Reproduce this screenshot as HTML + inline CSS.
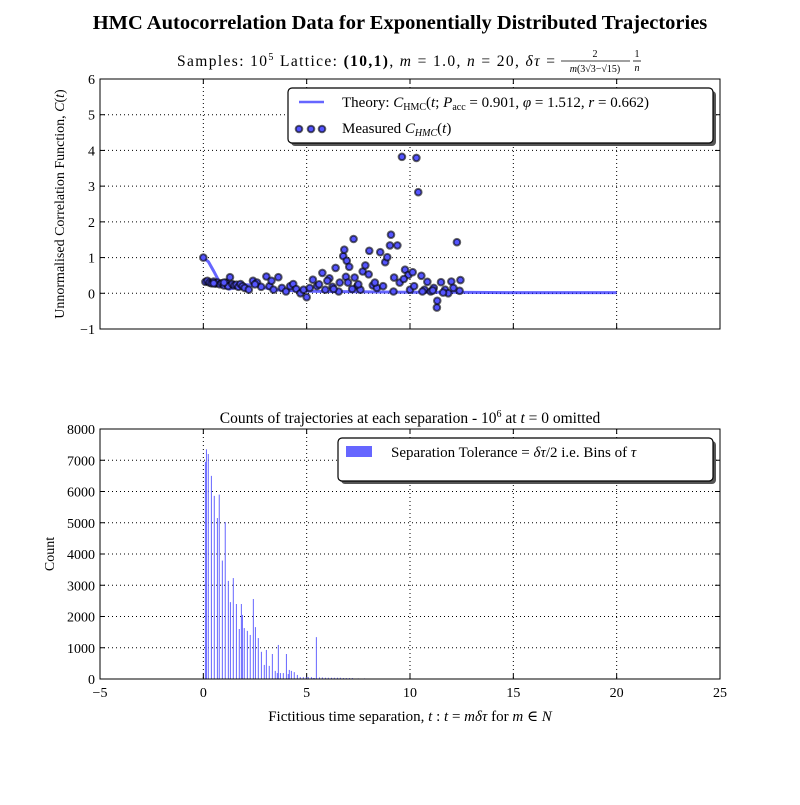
<!DOCTYPE html>
<html><head><meta charset="utf-8"><style>
body{margin:0;background:#fff;width:800px;height:800px;overflow:hidden}
svg text{font-family:"Liberation Serif","DejaVu Serif",serif;fill:#000}
</style></head><body>
<svg id="fig" width="800" height="800" viewBox="0 0 800 800" xmlns="http://www.w3.org/2000/svg">
<text x="400" y="29" font-size="20.5" font-weight="bold" text-anchor="middle">HMC Autocorrelation Data for Exponentially Distributed Trajectories</text>
<g>
<text x="177" y="66" font-size="15.5" textLength="378" lengthAdjust="spacing">Samples: 10<tspan font-size="10" dy="-6">5</tspan><tspan dy="6"> Lattice: </tspan><tspan font-weight="bold">(10,1)</tspan>, <tspan font-style="italic">m</tspan> = 1.0, <tspan font-style="italic">n</tspan> = 20, <tspan font-style="italic">δτ</tspan> =</text>
<text x="595" y="57" font-size="10" text-anchor="middle">2</text>
<line x1="561" x2="630" y1="61" y2="61" stroke="#000" stroke-width="0.8"/>
<text x="595" y="72" font-size="10" text-anchor="middle"><tspan font-style="italic">m</tspan>(3√3−√15)</text>
<text x="637" y="57" font-size="10" text-anchor="middle">1</text>
<line x1="633" x2="641" y1="61" y2="61" stroke="#000" stroke-width="0.8"/>
<text x="637" y="71" font-size="10" font-style="italic" text-anchor="middle">n</text>
</g>
<g id="topg"></g>
<g id="botg"></g>
<text transform="translate(64,204) rotate(-90)" font-size="14" text-anchor="middle">Unnormalised Correlation Function, <tspan font-style="italic">C</tspan>(<tspan font-style="italic">t</tspan>)</text>
<text x="410" y="423" font-size="15.5" text-anchor="middle">Counts of trajectories at each separation - 10<tspan font-size="10" dy="-6">6</tspan><tspan dy="6"> at </tspan><tspan font-style="italic">t</tspan> = 0 omitted</text>
<text transform="translate(54,554) rotate(-90)" font-size="14" text-anchor="middle">Count</text>
<text x="410" y="721" font-size="15" text-anchor="middle">Fictitious time separation, <tspan font-style="italic">t</tspan> : <tspan font-style="italic">t</tspan> = <tspan font-style="italic">mδτ</tspan> for <tspan font-style="italic">m</tspan> ∈ <tspan font-style="italic">N</tspan></text>
</svg>
<script>
const xTicks=[-5,0,5,10,15,20,25];
const topYTicks=[-1,0,1,2,3,4,5,6];
const botYTicks=[0,1000,2000,3000,4000,5000,6000,7000,8000];
const theoryT=[0,0.25,0.5,0.75,1,1.25,1.5,2,2.5,3,3.5,4,5,6,8,10,12,15,20];
const theoryV=[1,0.88,0.62,0.35,0.18,0.12,0.15,0.24,0.22,0.15,0.1,0.08,0.06,0.05,0.04,0.03,0.03,0.02,0.02];
const measT=[0,0.1,0.2,0.3,0.4,0.5,0.6,0.7,0.8,0.9,1.0,1.1,1.2,1.29,1.4,1.5,1.6,1.7,1.8,1.9,2.0,2.2,2.4,2.6,2.8,3.05,3.2,3.4,3.63,3.8,4.0,4.2,4.35,4.5,4.7,4.85,5.0,5.15,5.3,5.5,5.76,5.9,6.1,6.25,6.4,6.55,6.77,6.82,6.94,7.06,6.9,7.27,7.32,7.45,7.6,7.71,7.84,8.0,8.03,8.2,8.4,8.56,8.8,8.9,9.03,9.08,9.23,9.39,9.5,9.61,9.76,9.92,10.13,10.31,10.4,10.55,10.7,10.84,11.0,11.15,11.3,11.32,11.5,11.7,11.85,12.0,12.27,12.4,12.44,7.0,7.2,7.5,8.3,8.7,9.2,9.7,10.0,10.2,10.6,11.1,11.6,12.1,5.6,6.0,6.3,6.6,3.3,2.5,1.0,0.5];
const measV=[1.0,0.32,0.35,0.3,0.28,0.33,0.27,0.3,0.25,0.28,0.22,0.3,0.2,0.45,0.26,0.22,0.24,0.18,0.26,0.2,0.15,0.1,0.35,0.3,0.18,0.47,0.2,0.1,0.45,0.15,0.05,0.2,0.26,0.12,0.0,0.1,-0.11,0.15,0.38,0.2,0.57,0.1,0.42,0.18,0.71,0.05,1.04,1.22,0.91,0.74,0.46,1.52,0.44,0.2,0.1,0.61,0.78,0.53,1.19,0.22,0.15,1.15,0.87,1.01,1.34,1.64,0.44,1.34,0.3,3.82,0.66,0.51,0.59,3.79,2.83,0.49,0.1,0.32,0.05,0.15,-0.4,-0.21,0.31,0.1,0.0,0.33,1.43,0.07,0.37,0.3,0.12,0.25,0.3,0.2,0.05,0.4,0.1,0.2,0.05,0.08,0.02,0.15,0.25,0.35,0.12,0.3,0.35,0.25,0.3,0.28];
const binT=[0.10,0.15,0.24,0.39,0.53,0.68,0.77,0.92,1.06,1.21,1.31,1.45,1.60,1.74,1.84,1.89,1.98,2.13,2.27,2.42,2.52,2.66,2.81,2.95,3.05,3.19,3.34,3.48,3.58,3.63,3.73,3.87,4.02,4.11,4.16,4.26,4.40,4.55,4.69,4.84,4.98,5.08,5.23,5.32,5.37,5.47,5.62,5.76,5.91,6.05,6.2,6.34,6.49,6.63,6.78,6.92,7.07,7.21,7.5,7.8];
const binC=[6950,7350,7200,6500,5860,5150,5900,3790,5020,3140,2460,3230,2400,1600,2400,2050,1630,1540,1410,2560,1660,1310,870,450,930,420,800,260,190,1090,190,190,800,160,290,260,220,130,60,60,60,60,60,30,30,1340,50,50,40,40,40,40,40,40,30,30,30,30,20,20];

const NS="http://www.w3.org/2000/svg";
function mk(p,tag,at){const e=document.createElementNS(NS,tag);for(const k in at)e.setAttribute(k,at[k]);p.appendChild(e);return e;}
const L=100,R=720;
const xs=t=>L+(t+5)/30*(R-L);
const ty=v=>329-(v+1)/7*250;
const by=c=>679-c/8000*250;
const topG=document.getElementById('topg'),botG=document.getElementById('botg');

function axes(g,yT,yf,yTop,yBot,labelX){
  for(const t of xTicks){const x=xs(t);
    const gl=mk(g,'line',{x1:x,x2:x,y1:yTop,y2:yBot,stroke:'#000','stroke-dasharray':'1,3','stroke-width':1});
    
    
    mk(g,'line',{x1:x,x2:x,y1:yBot,y2:yBot-5,stroke:'#000'});mk(g,'line',{x1:x,x2:x,y1:yTop,y2:yTop+5,stroke:'#000'});
    if(labelX){const tx=mk(g,'text',{x:x,y:yBot+18,'font-size':14,'text-anchor':'middle'});tx.textContent=t<0?'−'+(-t):t;
      
      }
  }
  for(const v of yT){const y=yf(v);
    const gl=mk(g,'line',{x1:L,x2:R,y1:y,y2:y,stroke:'#000','stroke-dasharray':'1,3','stroke-width':1});
    
    
    mk(g,'line',{x1:L,x2:L+5,y1:y,y2:y,stroke:'#000'});mk(g,'line',{x1:R,x2:R-5,y1:y,y2:y,stroke:'#000'});
    const tx=mk(g,'text',{x:L-5,y:y+5,'font-size':14,'text-anchor':'end'});tx.textContent=v<0?'−'+(-v):v;
    
    
  }
}
axes(topG,topYTicks,ty,79,329,false);
let d='';theoryT.forEach((t,i)=>{d+=(i?'L':'M')+xs(t).toFixed(1)+','+ty(theoryV[i]).toFixed(1);});
const tl=mk(topG,'path',{d:d,fill:'none',stroke:'#0000ff','stroke-opacity':0.6,'stroke-width':3});


measT.forEach((t,i)=>{const c=mk(topG,'circle',{cx:xs(t),cy:ty(measV[i]),r:3.3,fill:'#5555ff',stroke:'#000','stroke-opacity':0.6,'stroke-width':2});
  
  });
const f1=mk(topG,'rect',{x:L,y:79,width:R-L,height:250,fill:'none',stroke:'#000'});



axes(botG,botYTicks,by,429,679,true);
binT.forEach((t,i)=>{const x=xs(t);const b=mk(botG,'rect',{x:x-0.5,y:by(binC[i]),width:1,height:679-by(binC[i]),fill:'#6666ff'});
  
  });
const f2=mk(botG,'rect',{x:L,y:429,width:R-L,height:250,fill:'none',stroke:'#000'});



function legend(g,x,y,w,h,name){mk(g,'rect',{x:x+3,y:y+3,width:w,height:h,rx:4,fill:'#555'});
  const r=mk(g,'rect',{x:x,y:y,width:w,height:h,rx:4,fill:'#fff',stroke:'#000','stroke-width':1.2});
  
  }
legend(topG,288,88,425,55,'top-legend');
mk(topG,'line',{x1:299,x2:324,y1:102,y2:102,stroke:'#0000ff','stroke-opacity':0.6,'stroke-width':2.5});
[299,311,322].forEach((x,i)=>mk(topG,'circle',{cx:x,cy:129,r:3.3,fill:'#5555ff',stroke:'#000','stroke-opacity':0.6,'stroke-width':2}));
let t1=mk(topG,'text',{x:342,y:107,'font-size':15});t1.innerHTML='Theory: <tspan font-style="italic">C</tspan><tspan font-size="10" dy="3">HMC</tspan><tspan dy="-3">(</tspan><tspan font-style="italic">t</tspan>; <tspan font-style="italic">P</tspan><tspan font-size="10" dy="3">acc</tspan><tspan dy="-3"> = 0.901, </tspan><tspan font-style="italic">φ</tspan> = 1.512, <tspan font-style="italic">r</tspan> = 0.662)';


let t2=mk(topG,'text',{x:342,y:133,'font-size':15});t2.innerHTML='Measured <tspan font-style="italic">C</tspan><tspan font-size="10" font-style="italic" dy="3">HMC</tspan><tspan dy="-3">(</tspan><tspan font-style="italic">t</tspan>)';


legend(botG,338,438,375,43,'bottom-legend');
mk(botG,'rect',{x:346,y:446,width:26,height:11,fill:'#6666ff'});
let t3=mk(botG,'text',{x:391,y:457,'font-size':15});t3.innerHTML='Separation Tolerance = <tspan font-style="italic">δτ</tspan>/2 i.e. Bins of <tspan font-style="italic">τ</tspan>';


</script>
</body></html>
